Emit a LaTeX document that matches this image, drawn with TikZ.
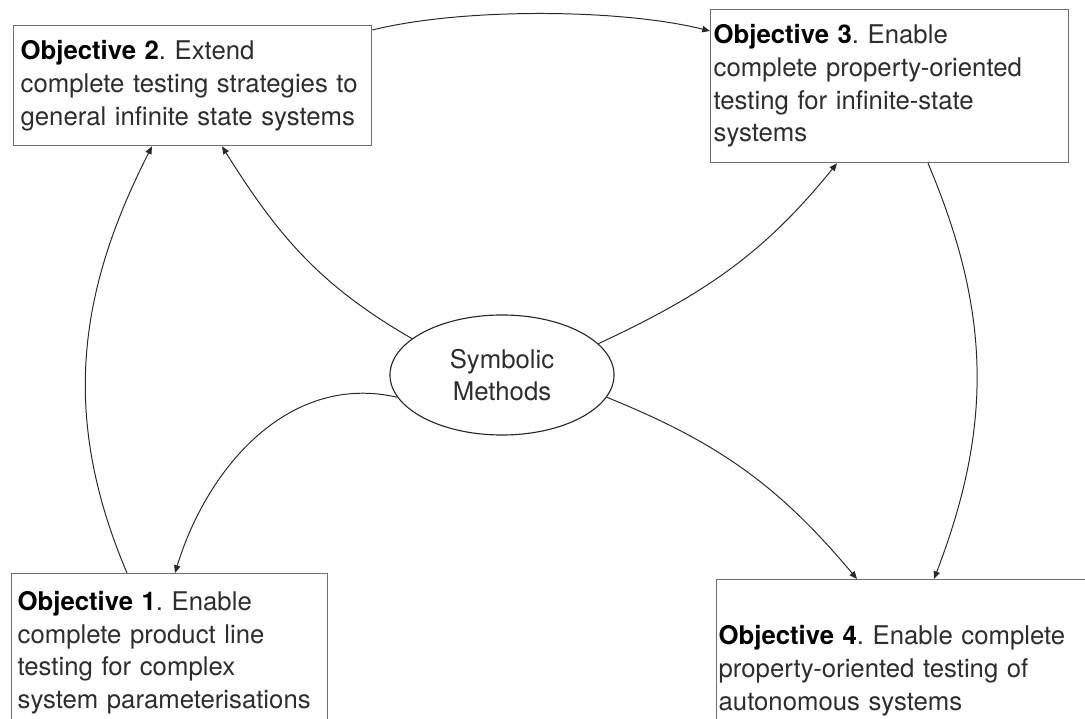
\documentclass[tikz,border=0pt]{standalone}
\usepackage{fontspec}
\setmainfont{TeX Gyre Heros}
\usetikzlibrary{arrows.meta,shapes.geometric,calc}
\definecolor{boxgray}{RGB}{110,110,110}
\definecolor{linegray}{RGB}{40,40,40}
\definecolor{inkgray}{RGB}{45,45,45}
\newcommand{\objtitle}[1]{\textcolor{black}{\textbf{Objective #1}}}
\frenchspacing

\begin{document}
\begin{tikzpicture}[
    x=0.025cm, y=0.025cm,
    font=\fontsize{18.3}{23.2}\selectfont,
    box/.style={draw=boxgray, line width=0.9pt, text=inkgray, align=left,
                anchor=north west, inner ysep=0pt},
    oval/.style={ellipse, draw=linegray, line width=0.8pt, text=inkgray, align=center,
                minimum width=5.6cm, minimum height=3cm, inner sep=0pt},
    arrow/.style={-{Triangle[length=5.5pt,width=4.5pt]}, line width=0.7pt, draw=linegray}
  ]
  \useasboundingbox (0,0) rectangle (1085,718);
  \clip (0,0) rectangle (1085,718);

  % objectives
  \node[box, text width=8.6cm, inner xsep=0.175cm, minimum height=3cm] (obj2) at (13,693)
    {\objtitle{2}. Extend\\complete testing strategies to\\general infinite state systems};
  \node[box, text width=8.8cm, inner xsep=0.075cm, minimum height=3.825cm] (obj3) at (710,709)
    {\objtitle{3}. Enable\\complete property-oriented\\testing for infinite-state\\systems};
  \node[box, text width=7.6cm, inner xsep=0.15cm, minimum height=3.95cm] (obj1) at (11,145)
    {\objtitle{1}. Enable\\complete product line\\testing for complex\\system parameterisations};
  \node[box, text width=10.25cm, inner xsep=0.05cm, minimum height=4.55cm] (obj4) at (716,139)
    {\objtitle{4}. Enable complete\\property-oriented testing of\\autonomous systems};

  % centre
  \node[oval] (sym) at (502,343) {Symbolic\\Methods};

  \draw[arrow] ($(obj2.north east)+(0,-5)$) to[out=14, in=166, looseness=0.7] ($(obj3.north west)+(0,-22)$);
  \draw[arrow] (sym.158) to[out=150, in=302] ($(obj2.south west)+(209,0)$);
  \draw[arrow] (sym.18) to[out=25, in=231] ($(obj3.south west)+(127,0)$);
  \draw[arrow] (sym.192) to[out=167, in=73] ($(obj1.north west)+(164,0)$);
  \draw[arrow] (sym.-12) to[out=-22, in=130] ($(obj4.north west)+(141,0)$);
  \draw[arrow] ($(obj1.north west)+(116,0)$) to[out=113, in=243] ($(obj2.south west)+(139,0)$);
  \draw[arrow] ($(obj3.south west)+(218,0)$) to[out=-67, in=69] ($(obj4.north west)+(218,0)$);
\end{tikzpicture}
\end{document}
